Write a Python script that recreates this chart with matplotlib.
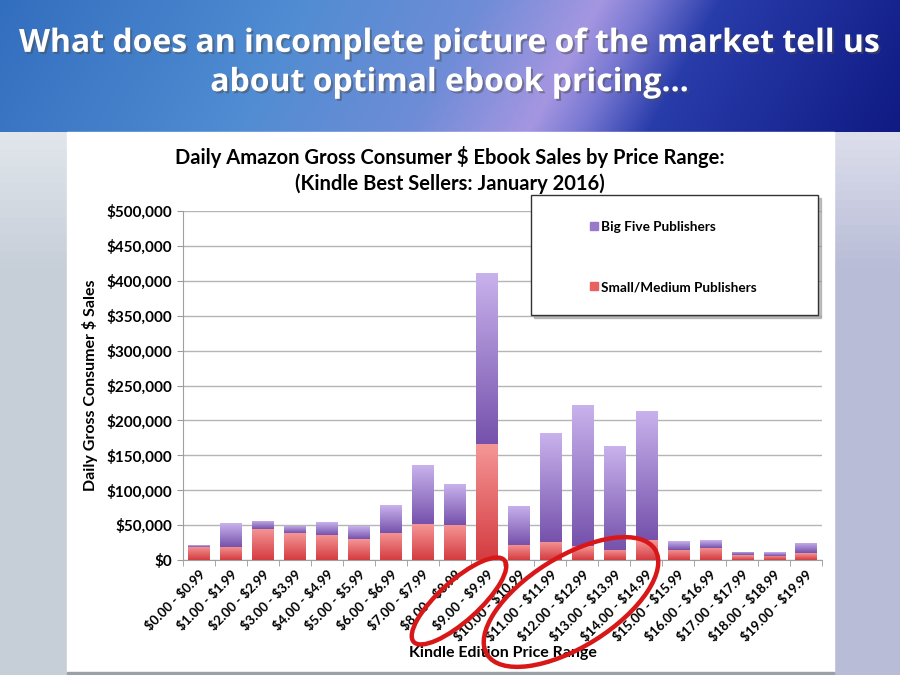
import numpy as np
import matplotlib
matplotlib.use("Agg")
import matplotlib.pyplot as plt
from matplotlib.patches import Rectangle, Ellipse
import matplotlib.patheffects as pe

plt.rcParams["text.parse_math"] = False

# price ranges on the x axis
price_ranges = ["$0.00 - $0.99", "$1.00 - $1.99", "$2.00 - $2.99", "$3.00 - $3.99",
                "$4.00 - $4.99", "$5.00 - $5.99", "$6.00 - $6.99", "$7.00 - $7.99",
                "$8.00 - $8.99", "$9.00 - $9.99", "$10.00 - $10.99", "$11.00 - $11.99",
                "$12.00 - $12.99", "$13.00 - $13.99", "$14.00 - $14.99", "$15.00 - $15.99",
                "$16.00 - $16.99", "$17.00 - $17.99", "$18.00 - $18.99", "$19.00 - $19.99"]

# daily gross sales ($)
small_medium = [19000, 19000, 44500, 38000, 36500, 30000, 39000, 51500, 50500, 166000,
                22000, 26500, 20000, 15000, 28000, 15000, 17500, 7000, 6000, 9500]
big_five = [2500, 34000, 11500, 10500, 18000, 18000, 40000, 84000, 58000, 245000,
            56000, 156000, 202000, 148000, 186000, 12000, 10500, 5000, 5000, 14500]

y_ticks = np.arange(0, 500001, 50000)

chart_title = "Daily Amazon Gross Consumer $ Ebook Sales by Price Range:\n(Kindle Best Sellers: January 2016)"
slide_title = "What does an incomplete picture of the market tell us\nabout optimal ebook pricing..."

W, H = 900, 675
fig = plt.figure(figsize=(9, 6.75), dpi=100)

# ---- slide background ----
bg = fig.add_axes([0, 0, 1, 1], zorder=0)
bg.axis("off")
xx, yy = np.meshgrid(np.arange(W), np.arange(132))
t = xx + 0.55 * yy
stops = [0, 300, 480, 600, 650, 720, 980]
cols = np.array([[50, 110, 190], [80, 140, 210], [110, 140, 215], [165, 150, 225],
                 [120, 120, 210], [40, 60, 170], [15, 25, 130]]) / 255.0
img = np.dstack([np.interp(t, stops, cols[:, k]) for k in range(3)])
bg.imshow(img, extent=[0, W, 132, 0], aspect="auto", zorder=0)

side = np.clip(np.linspace(0, 4, 64), 0, 1)[:, None]
def side_fill(c_top, c_bot):
    c_top, c_bot = np.array(c_top) / 255, np.array(c_bot) / 255
    return np.dstack([c_top[k] + (c_bot[k] - c_top[k]) * side for k in range(3)])
bg.imshow(side_fill([225, 230, 236], [198, 206, 216]), extent=[0, 67, H, 132],
          aspect="auto", zorder=0.5, origin="upper")
bg.imshow(side_fill([220, 222, 236], [184, 188, 214]), extent=[834, W, H, 132],
          aspect="auto", zorder=0.5, origin="upper")
bg.add_patch(Rectangle((67, 132), 767, 540, color="white", zorder=1))
bg.add_patch(Rectangle((67, 672), 767, 3, color="#9aa0aa", zorder=1))
bg.set_xlim(0, W)
bg.set_ylim(H, 0)
bg.text(W / 2, 63, slide_title, ha="center", va="center", color="white",
        fontsize=23, fontweight="bold", family="Open Sans", linespacing=1.25, zorder=2,
        path_effects=[pe.withSimplePatchShadow(offset=(1.5, -1.5), alpha=0.5)])

# ---- chart ----
ax = fig.add_axes([183 / W, 1 - 560 / H, 639 / W, 349 / H], zorder=2)
x = np.arange(len(price_ranges))
bw = 0.66
red_bars = ax.bar(x, small_medium, bw, color="#e86060", zorder=2)
pur_bars = ax.bar(x, big_five, bw, bottom=small_medium, color="#a080d0", zorder=2)


def shade(bars, top, bottom):
    grad = np.linspace(0, 1, 64)[:, None]
    g = np.dstack([bottom[k] + (top[k] - bottom[k]) * grad for k in range(3)])
    for b in bars:
        x0, y0 = b.get_x(), b.get_y()
        im = ax.imshow(g, extent=[x0, x0 + b.get_width(), y0, y0 + b.get_height()],
                       origin="lower", aspect="auto", zorder=3, interpolation="bilinear")
        im.set_clip_path(b)


red_top, red_bot = np.array([245, 150, 150]) / 255, np.array([212, 60, 65]) / 255
pur_top, pur_bot = np.array([200, 178, 236]) / 255, np.array([118, 82, 172]) / 255
shade(red_bars, red_top, red_bot)
shade(pur_bars, pur_top, pur_bot)

ax.set_xlim(-0.5, len(x) - 0.5)
ax.set_ylim(0, 500000)
ax.set_yticks(y_ticks)
ax.set_yticklabels(["$0"] + [f"${v:,.0f}" for v in y_ticks[1:]],
                   fontsize=11, fontweight="bold", family="Lato")
ax.set_xticks(x)
ax.set_xticklabels(price_ranges, rotation=45, ha="right", rotation_mode="anchor",
                   fontsize=9.5, fontweight="bold", family="Lato")
ax.set_xticks(np.arange(-0.5, len(x)), minor=True)
ax.tick_params(axis="x", which="major", length=0, pad=6)
ax.tick_params(axis="x", which="minor", length=4, color="#999999")
ax.tick_params(axis="y", length=4, color="#999999", pad=4)
ax.grid(axis="y", color="#b5b5b5", linewidth=1, zorder=0)
ax.set_axisbelow(True)
for s in ["top", "right"]:
    ax.spines[s].set_visible(False)
for s in ["left", "bottom"]:
    ax.spines[s].set_color("#a0a0a0")
ax.set_ylabel("Daily Gross Consumer $ Sales", fontsize=11.5, fontweight="bold",
              family="Lato", labelpad=6)
ax.set_xlabel("Kindle Edition Price Range", fontsize=11.5, fontweight="bold",
              family="Lato", labelpad=2)

# chart title
fig.text(450 / W, 1 - 170 / H, chart_title, ha="center", va="center", fontsize=14.5,
         fontweight="bold", family="Lato", linespacing=1.3)

# ---- overlay: legend box and hand-drawn ellipses ----
ov = fig.add_axes([0, 0, 1, 1], zorder=5)
ov.set_xlim(0, W)
ov.set_ylim(H, 0)
ov.axis("off")
ov.add_patch(Rectangle((534, 198), 287, 120, color="#9a9a9a", alpha=0.6))
ov.add_patch(Rectangle((531, 195), 287, 120, facecolor="white", edgecolor="#333333", lw=1))
ov.add_patch(Rectangle((590, 222), 8, 8, color="#9a78cc"))
ov.text(601, 227, "Big Five Publishers", va="center", fontsize=9.8, fontweight="bold",
        family="Lato")
ov.add_patch(Rectangle((590, 282), 8, 8, color="#e86060"))
ov.text(601, 287, "Small/Medium Publishers", va="center", fontsize=9.8, fontweight="bold",
        family="Lato")

ov.add_patch(Ellipse((459, 601), 122, 40, angle=-42, fill=False, edgecolor="#d81818", lw=3.2))
ov.add_patch(Ellipse((571, 602), 198, 90, angle=-32, fill=False, edgecolor="#d81818", lw=3.2))

fig.savefig("out.png", dpi=100)
